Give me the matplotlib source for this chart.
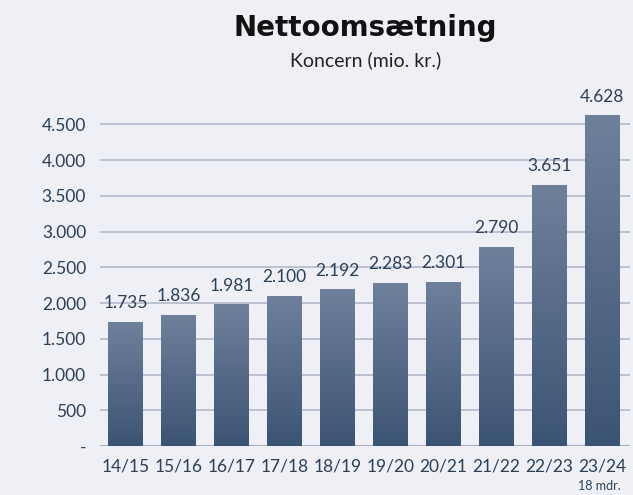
import matplotlib.pyplot as plt
import numpy as np
from matplotlib.colors import LinearSegmentedColormap

plt.rcParams['font.family'] = ['Lato', 'DejaVu Sans']

years = ['14/15', '15/16', '16/17', '17/18', '18/19', '19/20', '20/21', '21/22', '22/23', '23/24']
values = [1735, 1836, 1981, 2100, 2192, 2283, 2301, 2790, 3651, 4628]
yticks = [0, 500, 1000, 1500, 2000, 2500, 3000, 3500, 4000, 4500]

bg = '#eef0f5'
txt = '#2b3f57'
grad = LinearSegmentedColormap.from_list('g', ['#3c5474', '#6f809b'])

fig = plt.figure(figsize=(6.33, 4.95), dpi=100, facecolor=bg)
ax = fig.add_axes([0.158, 0.099, 0.837, 0.693], facecolor=bg)

x = np.arange(len(years))
w = 0.66
bars = ax.bar(x, values, width=w, color='none', zorder=3)
g = np.linspace(0, 1, 256).reshape(-1, 1)
for b in bars:
    x0, h = b.get_x(), b.get_height()
    im = ax.imshow(g, cmap=grad, origin='lower', aspect='auto',
                   extent=[x0, x0 + w, 0, h], zorder=3)
    im.set_clip_path(b)
for xi, v in zip(x, values):
    ax.text(xi, v + 150, f'{v:,}'.replace(',', '.'), ha='center', va='bottom',
            fontsize=12.5, color=txt, zorder=4)

ax.set_xlim(-0.48, len(years) - 0.48)
ax.set_ylim(0, 4800)
ax.set_yticks(yticks)
ax.set_yticklabels(['-'] + [f'{t:,}'.replace(',', '.') for t in yticks[1:]])
ax.set_xticks(x)
ax.set_xticklabels(years)
ax.grid(axis='y', color='#b3b9ca', lw=1.2, zorder=1)
ax.tick_params(length=0, colors=txt, labelsize=12.5)
ax.tick_params(axis='x', pad=9)
ax.tick_params(axis='y', pad=10)
for s in ax.spines.values():
    s.set_visible(False)
ax.axhline(0, color='#a9b0c2', lw=1.5, zorder=2)

ax.text(x[-1] - 0.05, -0.1, '18 mdr.', transform=ax.get_xaxis_transform(),
        ha='center', va='top', fontsize=9, color=txt)

fig.text(0.577, 0.943, 'Nettoomsætning', ha='center', va='center',
         fontsize=20, fontweight='bold', color='#111111',
         family=['DejaVu Sans'])
fig.text(0.577, 0.878, 'Koncern (mio. kr.)', ha='center', va='center',
         fontsize=14, color='#222222')

fig.savefig('out.png', dpi=100, facecolor=bg)
